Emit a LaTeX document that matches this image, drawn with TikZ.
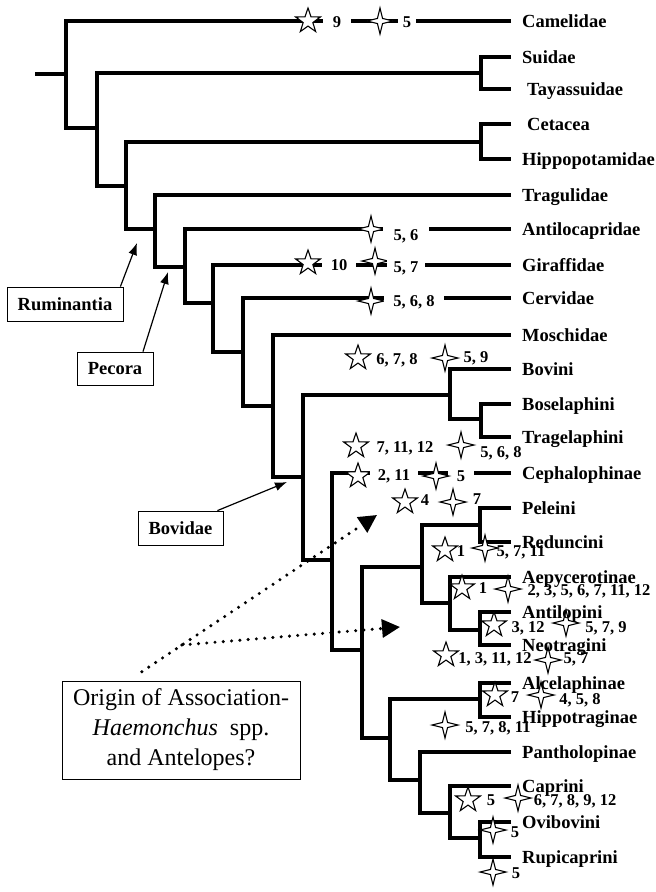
\documentclass[tikz,border=0pt]{standalone}
\usepackage{fontspec}
\setmainfont{Liberation Serif}
\usetikzlibrary{shapes.geometric, arrows.meta, calc, backgrounds}

\tikzset{
  branch/.style={line width=4.7pt, line join=miter},
  taxon/.style={anchor=west, inner xsep=11pt, inner ysep=0pt, text height=12.2pt, text depth=0pt,
    font=\bfseries\fontsize{18.5}{20}\selectfont},
  indent/.style={inner xsep=16pt},
  fivestar/.style={star, star points=5, star point ratio=2.55, draw, fill=white, line width=1.1pt,
    minimum size=26pt, inner sep=0pt},
  fourstar/.style={star, star points=4, star point ratio=3.6, draw, fill=white, line width=1.1pt,
    minimum size=26pt, inner sep=0pt},
  num/.style={inner sep=0pt, text height=11pt, text depth=0pt, font=\bfseries\fontsize{16.5}{18}\selectfont},
  cut/.style={fill=white, inner xsep=#1, inner ysep=3pt},
  tagbox/.style={draw, line width=0.8pt, inner sep=0pt, font=\bfseries\fontsize{18.5}{20}\selectfont},
  pointer/.style={line width=1.2pt, -{Latex[length=12pt,width=9pt]}},
  dotarrow/.style={line width=3.4pt, line cap=round, dash pattern=on 0pt off 8.3pt,
    -{Triangle[length=18pt,width=18pt]}},
}

\begin{document}
\begin{tikzpicture}[x=1pt, y=-1pt]
\useasboundingbox (0,0) rectangle (656,892);

% Synapomorphies (stars) and parasite numbers
\node[fivestar] (cam-a) at (308,21) {};
\node[num, cut=10pt] (cam-b) at (337,22) {9};
\node[fourstar] (cam-c) at (380,21) {};
\node[num, cut=5pt] (cam-d) at (407,22) {5};

\node[fourstar] (ant-a) at (371,229) {};
\node[num, cut=11pt] (ant-b) at (406,235) {5, 6};

\node[fivestar] (gir-a) at (308,263) {};
\node[num, cut=9pt] (gir-b) at (339,265) {10};
\node[fourstar] (gir-c) at (375,261) {};
\node[num, cut=7pt] (gir-d) at (406,267) {5, 7};

\node[fourstar] (cer-a) at (371,301) {};
\node[num, cut=9pt] (cer-b) at (414,301) {5, 6, 8};

\node[fivestar] (bov-a) at (358,358) {};
\node[num] (bov-b) at (397,359) {6, 7, 8};
\node[fourstar] (bov-c) at (445,358) {};
\node[num] (bov-d) at (476,357) {5, 9};

\node[fivestar] (tra-a) at (356,446) {};
\node[num] (tra-b) at (405,447) {7, 11, 12};
\node[fourstar] (tra-c) at (461,445) {};
\node[num] (tra-d) at (501,452) {5, 6, 8};

\node[fivestar] (cep-a) at (358,476) {};
\node[num, cut=7.5pt] (cep-b) at (394,475) {2, 11};
\node[num, cut=9pt] (cep-d) at (461,476) {5};
\node[fourstar] (cep-c) at (436,476) {};

\node[fivestar] (pel-a) at (405,502) {};
\node[num] (pel-b) at (425,500) {4};
\node[fourstar] (pel-c) at (453,502) {};
\node[num] (pel-d) at (477,499) {7};

\node[fivestar] (red-a) at (445,550) {};
\node[num] (red-b) at (461,551) {1};
\node[fourstar] (red-c) at (485,548) {};
\node[num] (red-d) at (521,551) {5, 7, 11};

\node[fivestar] (aep-a) at (462,588) {};
\node[num] (aep-b) at (483,588) {1};
\node[fourstar] (aep-c) at (508,589) {};
\node[num] (aep-d) at (589,590) {2, 3, 5, 6, 7, 11, 12};

\node[fivestar] (atl-a) at (494,625) {};
\node[num] (atl-b) at (528,627) {3, 12};
\node[fourstar] (atl-c) at (566,623) {};
\node[num] (atl-d) at (606,627) {5, 7, 9};

\node[fivestar] (neo-a) at (446,655) {};
\node[num] (neo-b) at (495,658) {1, 3, 11, 12};
\node[fourstar] (neo-c) at (548,660) {};
\node[num] (neo-d) at (576,658) {5, 7};

\node[fivestar] (alc-a) at (495,695) {};
\node[num] (alc-b) at (515,697) {7};
\node[fourstar] (alc-c) at (541,695) {};
\node[num] (alc-d) at (580,699) {4, 5, 8};

\node[fourstar] (hip-a) at (445,725) {};
\node[num] (hip-b) at (498,727) {5, 7, 8, 11};

\node[fivestar] (cap-a) at (468,800) {};
\node[num] (cap-b) at (491,800) {5};
\node[fourstar] (cap-c) at (518,798) {};
\node[num] (cap-d) at (575,800) {6, 7, 8, 9, 12};

\node[fourstar] (ovi-a) at (493,830) {};
\node[num] (ovi-b) at (515,832) {5};

\node[fourstar] (rup-a) at (493,872) {};
\node[num] (rup-b) at (516,873) {5};

% Taxa
\node[taxon] (camelidae) at (511,21) {Camelidae};
\node[taxon] (suidae) at (511,57) {Suidae};
\node[taxon, indent] (tayassuidae) at (511,89) {Tayassuidae};
\node[taxon, indent] (cetacea) at (511,124) {Cetacea};
\node[taxon] (hippopotamidae) at (511,159) {Hippopotamidae};
\node[taxon] (tragulidae) at (511,195) {Tragulidae};
\node[taxon] (antilocapridae) at (511,229) {Antilocapridae};
\node[taxon] (giraffidae) at (511,265) {Giraffidae};
\node[taxon] (cervidae) at (511,298) {Cervidae};
\node[taxon] (moschidae) at (511,335) {Moschidae};
\node[taxon] (bovini) at (511,369) {Bovini};
\node[taxon] (boselaphini) at (511,404) {Boselaphini};
\node[taxon] (tragelaphini) at (511,437) {Tragelaphini};
\node[taxon] (cephalophinae) at (511,473) {Cephalophinae};
\node[taxon] (peleini) at (511,508) {Peleini};
\node[taxon] (reduncini) at (511,542) {Reduncini};
\node[taxon] (aepycerotinae) at (511,577) {Aepycerotinae};
\node[taxon] (antilopini) at (511,612) {Antilopini};
\node[taxon] (neotragini) at (511,645) {Neotragini};
\node[taxon] (alcelaphinae) at (511,683) {Alcelaphinae};
\node[taxon] (hippotraginae) at (511,717) {Hippotraginae};
\node[taxon] (pantholopinae) at (511,752) {Pantholopinae};
\node[taxon] (caprini) at (511,786) {Caprini};
\node[taxon] (ovibovini) at (511,822) {Ovibovini};
\node[taxon] (rupicaprini) at (511,857) {Rupicaprini};

% Internal nodes
\coordinate (root) at (35,74);
\coordinate (ka) at (66,74);
\coordinate (kb) at (97,128);
\coordinate (ksu) at (481,73);
\coordinate (kc) at (126,186);
\coordinate (kce) at (481,142);
\coordinate (kd) at (155,229);
\coordinate (ke) at (185,267);
\coordinate (kf) at (213,303);
\coordinate (kg) at (243,352);
\coordinate (kh) at (273,406);
\coordinate (ki) at (303,477);
\coordinate (kbov) at (450,395);
\coordinate (ktr) at (481,419);
\coordinate (kl) at (332,560);
\coordinate (km) at (362,650);
\coordinate (kn) at (422,567);
\coordinate (ko) at (480,525);
\coordinate (kp) at (450,603);
\coordinate (kq) at (480,630);
\coordinate (kr) at (390,738);
\coordinate (ks) at (480,699);
\coordinate (kt) at (420,780);
\coordinate (ku) at (450,813);
\coordinate (kv) at (480,838);

% Branches
\begin{scope}[on background layer]
\draw[branch] (root) -- (ka);
\draw[branch] (camelidae.west) -| (ka) |- (kb);
\draw[branch] (ksu) -| (kb) |- (kc);
\draw[branch] (suidae.west) -| (ksu) |- (tayassuidae.west);
\draw[branch] (kce) -| (kc) |- (kd);
\draw[branch] (cetacea.west) -| (kce) |- (hippopotamidae.west);
\draw[branch] (tragulidae.west) -| (kd) |- (ke);
\draw[branch] (antilocapridae.west) -| (ke) |- (kf);
\draw[branch] (giraffidae.west) -| (kf) |- (kg);
\draw[branch] (cervidae.west) -| (kg) |- (kh);
\draw[branch] (moschidae.west) -| (kh) |- (ki);
\draw[branch] (kbov) -| (ki) |- (kl);
\draw[branch] (bovini.west) -| (kbov) |- (ktr);
\draw[branch] (boselaphini.west) -| (ktr) |- (tragelaphini.west);
\draw[branch] (cephalophinae.west) -| (kl) |- (km);
\draw[branch] (kn) -| (km) |- (kr);
\draw[branch] (ko) -| (kn) |- (kp);
\draw[branch] (peleini.west) -| (ko) |- (reduncini.west);
\draw[branch] (aepycerotinae.west) -| (kp) |- (kq);
\draw[branch] (antilopini.west) -| (kq) |- (neotragini.west);
\draw[branch] (ks) -| (kr) |- (kt);
\draw[branch] (alcelaphinae.west) -| (ks) |- (hippotraginae.west);
\draw[branch] (pantholopinae.west) -| (kt) |- (ku);
\draw[branch] (caprini.west) -| (ku) |- (kv);
\draw[branch] (ovibovini.west) -| (kv) |- (rupicaprini.west);
\end{scope}

% Clade boxes
\node[tagbox, minimum width=116pt, minimum height=34pt] (ruminantia) at (65,304) {Ruminantia};
\node[tagbox, minimum width=76pt, minimum height=33pt] (pecora) at (115,368.5) {Pecora};
\node[tagbox, minimum width=85pt, minimum height=34pt] (bovidae) at (180.5,528) {Bovidae};

\coordinate (rumtip) at (137,243);
\coordinate (pectip) at (168,272);
\coordinate (bovtip) at (287,482);
\draw[pointer] ([xshift=-3pt]ruminantia.north east) -- (rumtip);
\draw[pointer] ([xshift=28pt]pecora.north) -- (pectip);
\draw[pointer] ([xshift=-6pt]bovidae.north east) -- (bovtip);

% Origin question
\node[draw, line width=0.8pt, minimum width=238pt, minimum height=98pt, inner sep=0pt, align=center,
  font=\fontsize{24}{30}\selectfont] (origin) at (181,730)
  {Origin of Association-\\ \textit{Haemonchus}~ spp.\\ and Antelopes?};

\coordinate (tipa) at (377,515);
\coordinate (tipb) at (400,627);
\coordinate (fork) at ($([xshift=-52.5pt]origin.north)!0.215!(tipa)$);
\draw[dotarrow, shorten <=16pt] ([xshift=-52.5pt]origin.north) -- (tipa);
\draw[dotarrow] (fork) -- (tipb);
\end{tikzpicture}
\end{document}
